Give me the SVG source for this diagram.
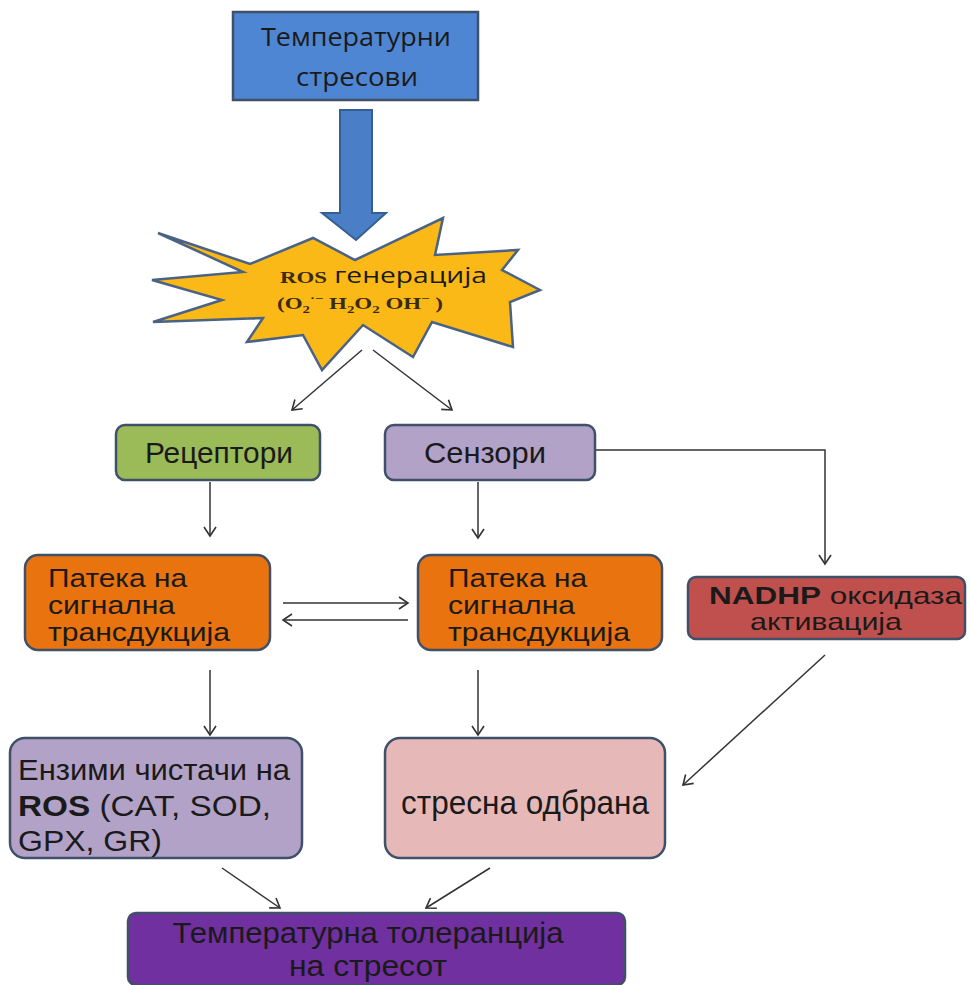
<svg xmlns="http://www.w3.org/2000/svg" width="970" height="985" viewBox="0 0 970 985">
<defs>
<marker id="ah" markerWidth="14" markerHeight="14" refX="11" refY="7" orient="auto" markerUnits="userSpaceOnUse">
<path d="M2,1 L11,7 L2,13" fill="none" stroke="#333" stroke-width="1.6"/>
</marker>
<style>
.box{stroke:#3f5068;stroke-width:2.5}
.con{fill:none;stroke:#333;stroke-width:1.5;marker-end:url(#ah)}
.t{font-family:"Liberation Sans",Arial,sans-serif;fill:#1a1a1a}
.o{font-family:"Open Sans","Liberation Sans",sans-serif;fill:#1a1a1a}
.s{font-family:"Liberation Serif","Times New Roman",serif;font-weight:bold;fill:#3a2a10}
</style>
</defs>
<rect width="970" height="985" fill="#ffffff"/>

<g id="connectors">
<path d="M340,110 H372 V213 H386 L356,240 L322,213 H340 Z" fill="#4a7ec7" stroke="#365f91" stroke-width="2"/>
<path class="con" d="M362,350 L292,410"/>
<path class="con" d="M373,350 L452,410"/>
<path class="con" d="M210,482 V536"/>
<path class="con" d="M478,482 V538"/>
<path class="con" d="M596,450 H825 V564"/>
<path class="con" d="M283,603 H408"/>
<path class="con" d="M408,620 H283"/>
<path class="con" d="M210,670 V735"/>
<path class="con" d="M478,670 V735"/>
<path class="con" d="M825,655 L683,785"/>
<path class="con" d="M222,868 L280,908"/>
<path class="con" d="M490,868 L426,908"/>
</g>

<g id="n-temp-stress">
<rect class="box" x="233" y="12" width="245" height="88" fill="#4f86d3" stroke="#3a5f8f"/>
<text class="o" x="356" y="46" font-size="26" text-anchor="middle" textLength="190" lengthAdjust="spacingAndGlyphs">Температурни</text>
<text class="o" x="357" y="86" font-size="26" text-anchor="middle" textLength="122" lengthAdjust="spacingAndGlyphs">стресови</text>
</g>

<g id="n-ros">
<polygon points="158,233 250,264 313,238 355,260 443,218 435,255 518,250 502,270 540,290 510,302 513,347 432,322 413,357 363,325 322,370 303,335 247,342 263,318 153,322 222,300 152,280 243,272" fill="#fbb917" stroke="#4a6384" stroke-width="2.5" stroke-linejoin="miter"/>
<text x="280" y="283" textLength="207" lengthAdjust="spacingAndGlyphs"><tspan class="s" font-size="17">ROS</tspan><tspan class="o" font-size="21" fill="#2a2010"> генерација</tspan></text>
<text class="s" x="277" y="309" font-size="17" textLength="166" lengthAdjust="spacingAndGlyphs">(O<tspan font-size="11" dy="4">2</tspan><tspan font-size="11" dy="-11">·−</tspan><tspan dy="7">  H</tspan><tspan font-size="11" dy="4">2</tspan><tspan dy="-4">O</tspan><tspan font-size="11" dy="4">2</tspan><tspan dy="-4"> OH</tspan><tspan font-size="11" dy="-7">−</tspan><tspan dy="7"> )</tspan></text>
</g>

<g id="n-receptors">
<rect class="box" x="116" y="425" width="204" height="55" rx="9" fill="#9bbb59"/>
<text class="t" x="219" y="463" font-size="30" text-anchor="middle" textLength="148" lengthAdjust="spacingAndGlyphs">Рецептори</text>
</g>

<g id="n-sensors">
<rect class="box" x="385" y="425" width="210" height="55" rx="9" fill="#b3a2c7"/>
<text class="t" x="485" y="463" font-size="30" text-anchor="middle" textLength="122" lengthAdjust="spacingAndGlyphs">Сензори</text>
</g>

<g id="n-path-left">
<rect class="box" x="25" y="555" width="245" height="95" rx="13" fill="#e8730f"/>
<text class="t" x="48" y="587" font-size="25" textLength="139" lengthAdjust="spacingAndGlyphs">Патека на</text>
<text class="t" x="48" y="614" font-size="25" textLength="127" lengthAdjust="spacingAndGlyphs">сигнална</text>
<text class="t" x="48" y="641" font-size="25" textLength="182" lengthAdjust="spacingAndGlyphs">трансдукција</text>
</g>

<g id="n-path-mid">
<rect class="box" x="418" y="555" width="244" height="95" rx="13" fill="#e8730f"/>
<text class="t" x="448" y="587" font-size="25" textLength="139" lengthAdjust="spacingAndGlyphs">Патека на</text>
<text class="t" x="448" y="614" font-size="25" textLength="127" lengthAdjust="spacingAndGlyphs">сигнална</text>
<text class="t" x="448" y="641" font-size="25" textLength="182" lengthAdjust="spacingAndGlyphs">трансдукција</text>
</g>

<g id="n-nadph">
<rect class="box" x="688" y="577" width="277" height="62" rx="8" fill="#c0504d"/>
<text class="t" x="709" y="604" font-size="24" textLength="253" lengthAdjust="spacingAndGlyphs"><tspan font-weight="bold">NADHP</tspan> оксидаза</text>
<text class="t" x="826" y="630" font-size="24" text-anchor="middle" textLength="152" lengthAdjust="spacingAndGlyphs">активација</text>
</g>

<g id="n-enzymes">
<rect class="box" x="10" y="738" width="292" height="120" rx="15" fill="#b3a2c7"/>
<text class="t" x="18" y="780" font-size="30" textLength="272" lengthAdjust="spacingAndGlyphs">Ензими чистачи на</text>
<text class="t" x="18" y="816" font-size="30" textLength="253" lengthAdjust="spacingAndGlyphs"><tspan font-weight="bold">ROS</tspan> (CAT, SOD,</text>
<text class="t" x="18" y="851" font-size="30" textLength="144" lengthAdjust="spacingAndGlyphs">GPX, GR)</text>
</g>

<g id="n-defense">
<rect class="box" x="385" y="738" width="280" height="120" rx="15" fill="#e6b9b8"/>
<text class="t" x="525" y="814" font-size="33" text-anchor="middle" textLength="248" lengthAdjust="spacingAndGlyphs">стресна одбрана</text>
</g>

<g id="n-tolerance">
<rect class="box" x="128" y="913" width="497" height="72" rx="8" fill="#7030a0"/>
<text class="t" x="368" y="943" font-size="29" text-anchor="middle" textLength="391" lengthAdjust="spacingAndGlyphs">Температурна толеранција</text>
<text class="t" x="368" y="976" font-size="29" text-anchor="middle" textLength="158" lengthAdjust="spacingAndGlyphs">на стресот</text>
</g>
</svg>
